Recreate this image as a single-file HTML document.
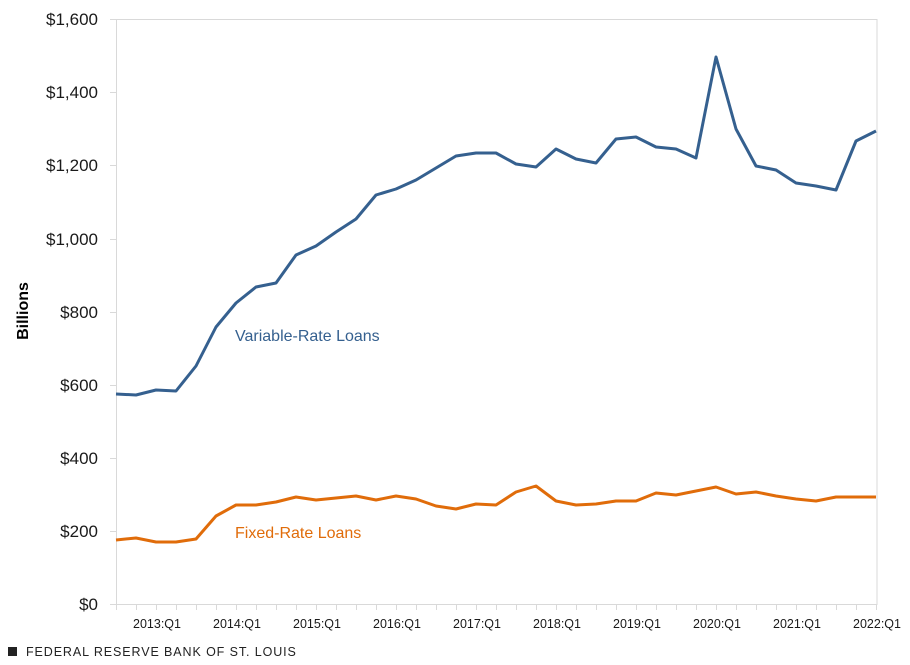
<!DOCTYPE html>
<html><head><meta charset="utf-8"><style>
body{margin:0;background:#fff}
svg text{font-family:"Liberation Sans",sans-serif}
</style></head><body>
<svg width="910" height="660" viewBox="0 0 910 660" xmlns="http://www.w3.org/2000/svg">
<rect x="116.5" y="19.5" width="760.5" height="585" fill="none" stroke="#d9d9d9" stroke-width="1"/>
<g stroke="#d9d9d9" stroke-width="1">
<line x1="110" y1="19.5" x2="116" y2="19.5"/><line x1="110" y1="92.5" x2="116" y2="92.5"/>
<line x1="110" y1="165.5" x2="116" y2="165.5"/><line x1="110" y1="239.5" x2="116" y2="239.5"/>
<line x1="110" y1="312.5" x2="116" y2="312.5"/><line x1="110" y1="385.5" x2="116" y2="385.5"/>
<line x1="110" y1="458.5" x2="116" y2="458.5"/><line x1="110" y1="531.5" x2="116" y2="531.5"/>
<line x1="110" y1="604.5" x2="116" y2="604.5"/>
</g>
<g id="xt" stroke="#d9d9d9" stroke-width="1"></g>
<g font-size="17" fill="#1a1a1a" text-anchor="end">
<text x="98" y="25">$1,600</text><text x="98" y="98">$1,400</text><text x="98" y="171">$1,200</text>
<text x="98" y="245">$1,000</text><text x="98" y="318">$800</text><text x="98" y="391">$600</text>
<text x="98" y="464">$400</text><text x="98" y="537">$200</text><text x="98" y="610">$0</text>
</g>
<g font-size="12.5" fill="#1a1a1a" text-anchor="middle">
<text x="157" y="628">2013:Q1</text><text x="237" y="628">2014:Q1</text><text x="317" y="628">2015:Q1</text>
<text x="397" y="628">2016:Q1</text><text x="477" y="628">2017:Q1</text><text x="557" y="628">2018:Q1</text>
<text x="637" y="628">2019:Q1</text><text x="717" y="628">2020:Q1</text><text x="797" y="628">2021:Q1</text>
<text x="877" y="628">2022:Q1</text>
</g>
<text transform="translate(28,311) rotate(-90)" font-size="16" font-weight="bold" text-anchor="middle" fill="#000">Billions</text>
<polyline fill="none" stroke="#35608f" stroke-width="3" stroke-linejoin="round" points="116,394 136,395 156,390 176,391 196,366 216,327 236,303 256,287 276,283 296,255 316,246 336,232 356,219 376,195 396,189 416,180 436,168 456,156 476,153 496,153 516,164 536,167 556,149 576,159 596,163 616,139 636,137 656,147 676,149 696,158 716,57 736,129 756,166 776,170 796,183 816,186 836,190 856,141 876,131"/>
<polyline fill="none" stroke="#e06c0a" stroke-width="3" stroke-linejoin="round" points="116,540 136,538 156,542 176,542 196,539 216,516 236,505 256,505 276,502 296,497 316,500 336,498 356,496 376,500 396,496 416,499 436,506 456,509 476,504 496,505 516,492 536,486 556,501 576,505 596,504 616,501 636,501 656,493 676,495 696,491 716,487 736,494 756,492 776,496 796,499 816,501 836,497 856,497 876,497"/>
<text x="235" y="341" font-size="16" fill="#35608f">Variable-Rate Loans</text>
<text x="235" y="538" font-size="16" fill="#e06c0a">Fixed-Rate Loans</text>
<rect x="8" y="647" width="9" height="9" fill="#222"/>
<text x="26" y="656" font-size="12.5" fill="#222" letter-spacing="0.9">FEDERAL RESERVE BANK OF ST. LOUIS</text>
</svg>
<script>
var g=document.getElementById('xt'),s='';
for(var i=0;i<=38;i++){var x=116.5+i*20;s+='<line x1="'+x+'" y1="604" x2="'+x+'" y2="610"/>';}
g.innerHTML=s;
</script>
</body></html>
